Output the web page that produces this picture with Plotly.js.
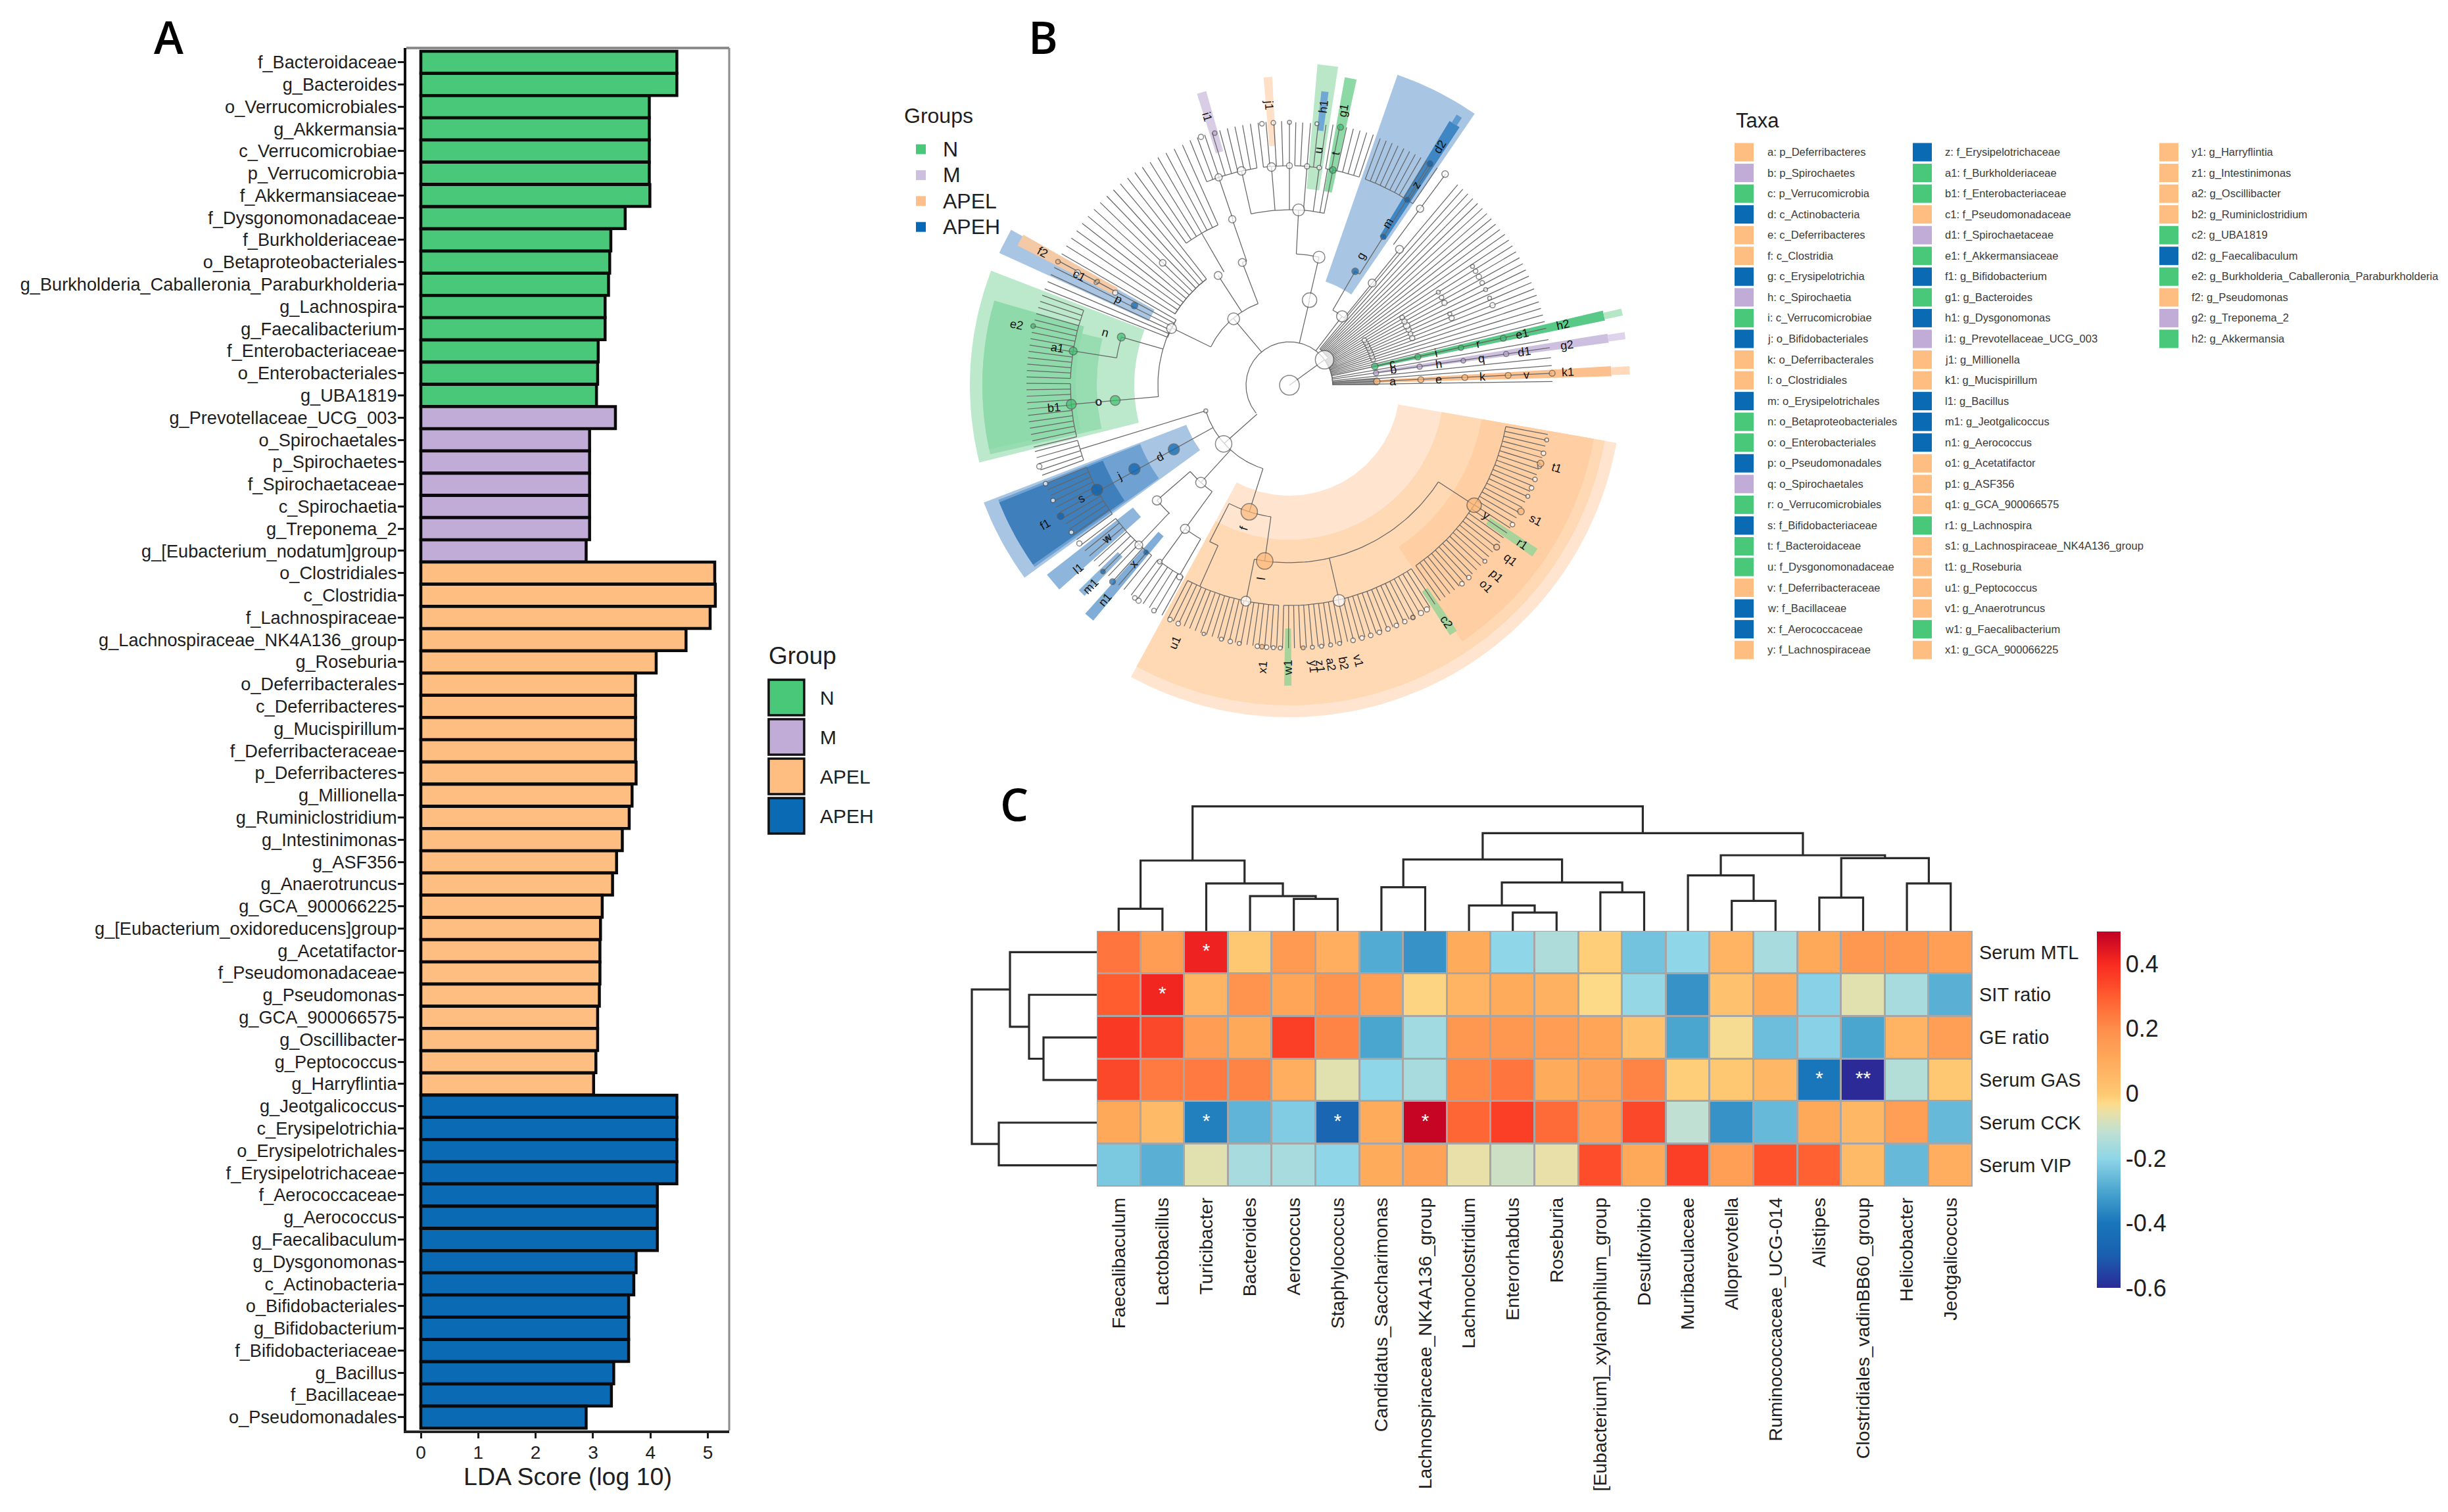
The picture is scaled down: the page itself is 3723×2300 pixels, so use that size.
<!DOCTYPE html>
<html><head><meta charset="utf-8">
<script src="https://cdn.plot.ly/plotly-3.0.1.min.js"></script>
<style>html,body{margin:0;padding:0;background:#fff}#c{width:3723px;height:2300px}</style></head>
<body><div id="c"></div>
<script>
const W=3723,H=2300,FONT='"Liberation Sans",Arial,sans-serif';
const groupNames=['N','M','APEL','APEH'];
const groupColors=['#48C878','#C0ACD6','#FEBE82','#0A6AB4'];

// ---------- Panel A ----------
const taxaN=['f_Bacteroidaceae','g_Bacteroides','o_Verrucomicrobiales','g_Akkermansia','c_Verrucomicrobiae','p_Verrucomicrobia','f_Akkermansiaceae','f_Dysgonomonadaceae','f_Burkholderiaceae','o_Betaproteobacteriales','g_Burkholderia_Caballeronia_Paraburkholderia','g_Lachnospira','g_Faecalibacterium','f_Enterobacteriaceae','o_Enterobacteriales','g_UBA1819'];
const ldaN=[4.46,4.46,3.98,3.98,3.98,3.98,3.99,3.56,3.31,3.29,3.27,3.21,3.21,3.09,3.08,3.06];
const taxaM=['g_Prevotellaceae_UCG_003','o_Spirochaetales','p_Spirochaetes','f_Spirochaetaceae','c_Spirochaetia','g_Treponema_2','g_[Eubacterium_nodatum]group'];
const ldaM=[3.39,2.94,2.94,2.94,2.94,2.94,2.88];
const taxaL=['o_Clostridiales','c_Clostridia','f_Lachnospiraceae','g_Lachnospiraceae_NK4A136_group','g_Roseburia','o_Deferribacterales','c_Deferribacteres','g_Mucispirillum','f_Deferribacteraceae','p_Deferribacteres','g_Millionella','g_Ruminiclostridium','g_Intestinimonas','g_ASF356','g_Anaerotruncus','g_GCA_900066225','g_[Eubacterium_oxidoreducens]group','g_Acetatifactor','f_Pseudomonadaceae','g_Pseudomonas','g_GCA_900066575','g_Oscillibacter','g_Peptococcus','g_Harryflintia'];
const ldaL=[5.12,5.13,5.04,4.62,4.10,3.74,3.74,3.74,3.74,3.75,3.68,3.63,3.51,3.41,3.34,3.16,3.13,3.12,3.12,3.11,3.08,3.08,3.05,3.01];
const taxaH=['g_Jeotgalicoccus','c_Erysipelotrichia','o_Erysipelotrichales','f_Erysipelotrichaceae','f_Aerococcaceae','g_Aerococcus','g_Faecalibaculum','g_Dysgonomonas','c_Actinobacteria','o_Bifidobacteriales','g_Bifidobacterium','f_Bifidobacteriaceae','g_Bacillus','f_Bacillaceae','o_Pseudomonadales'];
const ldaH=[4.46,4.46,4.46,4.46,4.12,4.12,4.12,3.75,3.71,3.62,3.62,3.62,3.36,3.32,2.88];

// ---------- Panel B: cladogram (angle in degrees, radius) ----------
// sectors: [angle0, angle1, r0, r1, colour]
const sectors=[
 [-118.5,-10,168,505,'#FFE5CF'],[-118.5,-10,235,487,'#FFD8B4'],[-56,-10,297,470,'#FFCEA2'],
 [-57.3,-55.7,373,452,'#A8D49C'],[-35.2,-33.4,366,452,'#A8D49C'],[269,270.4,370,457,'#A8D49C'],
 [159,194,236,486,'#BCE9CB'],[166,193,293,467,'#98DDB1'],[164,192,325,467,'#8FDAAA'],
 [201,216,168,498,'#A8C6E3'],[201.5,215.5,244,476,'#6FA2D3'],[202,215,306,476,'#3F7FBC'],
 [55.7,70.8,167,500,'#A8C6E3'],[56.6,58.8,265,470,'#3F86C4'],[57.2,58.3,470,484,'#5E9BCF'],
 [81.3,85,300,490,'#B9E7C8'],[82.4,83.8,390,450,'#6FA8D4'],[77.6,79.8,300,476,'#8CD9A6'],
 [93.2,94.8,365,470,'#FFE0C6'],[105.8,107.6,370,465,'#D9CDE6'],
 [150.8,155.5,235,485,'#A8C6E3'],[150.5,152.8,300,465,'#F3C9A6'],
 [218,221.6,302,468,'#8EB6DC'],[224.2,225.8,364,447,'#8EB6DC'],[228.2,230.2,299,466,'#7FADD8'],
 [0,5,66,135,'#9C9C9C'],
 [11.6,13.4,130,490,'#58C986'],[11.8,13,490,518,'#B5E6C6'],
 [7.6,9.2,130,490,'#CDBFE0'],[7.8,9,490,516,'#DDD3EB'],
 [1.6,3.4,130,490,'#FCC08E'],[1.8,3.2,490,518,'#FFD9BA']
];
// leaf combs: [arcRadius, tipRadius, leaf angles]
const leafCombs=[
 [66,400,[0.8,2.6,4.3,6,8.2,10,12.5,14,15.5,17,18.5,20,21.5,23,24.5,26,27.5,29,30.5,32,33.5,35]],
 [72,398,[36.5,38,39.5,41,42.5,44,45.5,47,48.5,50]],
 [334,400,[55.8,57.2,58.6,60,61.4,62.8,64.2,65.6,67,68.4,69.8]],
 [334,402,[71.5,73,74.5,76,77.5,79,80.5]],
 [334,400,[82,83.7,85.4,87.1,88.6]],
 [334,402,[90,91.7,93.4,95.1,96.8]],
 [334,402,[98.5,100.2,101.9,103.6,105.3,107,108.7,110.4,112.1]],
 [267,400,[114,116,118,120,122,124,126]],
 [205,400,[128,130,132,134,136,138,140,142,144,146,148]],
 [199,400,[150,151.7,153.4,155.1,156.8,158.5]],
 [333,400,[160,161.4,162.8,164.2,165.6,167,168.4,169.8,171.2,172.6,174,175.4,176.8,178.2]],
 [333,400,[179.6,181,182.4,183.8,185.2,186.6,188,189.4,190.8,192.2,193.6]],
 [333,400,[194.6,196,197.4,198.8,200]],
 [333,400,[202,203.4,204.8,206.2,207.6,209,210.4,211.8,213.2,214.6,216]],
 [333,400,[217.5,219,220.5,222,223.5,225,226.5,228,229.5,231]],
 [333,400,[233,234.6,236.2,237.8,239.4,241]],
 [335,400,[242.5,243.8,245.1,246.4,247.7,249,250.3,251.6,252.9,254.2,255.5,256.8,258.1,259.4,260.7,262,263.3,264.6,265.9,267.2]],
 [335,400,[268.5,269.8,271.1,272.4,273.7,275,276.3,277.6,278.9,280.2,281.5,282.8,284.1,285.4,286.7,288,289.3,290.6,291.9,293.2,294.5,295.8,297.1,298.4,299.7,301,302.3,303.6]],
 [335,400,[305,306.3,307.6,308.9,310.2,311.5,312.8,314.1,315.4,316.7,318,319.3,320.6,321.9,323.2,324.5,325.8,327.1,328.4,329.7,331,332.3,333.6,334.9,336.2,337.5,338.8,340.1,341.4,342.7,344,345.3,346.6,347.9,349.2]]
];
// arcs: [radius, angle0, angle1]
const branchArcs=[[66,0,220],[133,197,252.4],[133,111,154],[200,77,87],[267,78.6,102.6],[132,51,60],[200,57.7,60],
 [200,109,111],[199,150,154],[205,128,148],[200,154,185],[266,164,171],[200,221,234],[267,221,227],[270,234,240],
 [202,243,262],[267,243,246],[270,258.6,327]];
// spokes: [angle, r0, r1]
const branchSpokes=[[36,0,66],[76.7,66,133],[77,133,200],[87,200,267],[78.6,267,334],[80,267,334],[82.2,267,334],[85.4,267,334],[90,267,334],[94.7,267,334],[102.6,267,334],
 [52.6,66,132],[51,132,266],[53.5,266,400],[60,132,200],[57.7,200,400],[130,66,133],[111,133,200],[123,133,199],[154,133,199],[109,200,267],[108.8,267,334],[120,199,267],
 [164,200,266],[185,200,333],[171,266,333],[221.7,66,133],[197,133,333],[209,133,333],[227.7,133,200],[221,200,267],[234,200,270],[226.7,267,334],[234,270,333],[240,270,333],
 [252.4,133,202],[243,202,267],[262,202,270],[246,267,335],[258.6,270,335],[283,270,335],[327,270,335]];
// nodes: [angle, radius, diameter]
const nodesWhite=[[0,0,30],[36,66,28],[76.7,133,22],[52.6,132,17],[130,132,18],[221.7,134,25],[197,133,6],[77,200,18],[87,267,18],[51,200,12],[51,266,12],[53.5,334,11],[53.6,399,10],
 [102.6,334,13],[94.7,333,13],[90,334,9],[85.4,334,8],[82.2,334,7],[111,200,12],[123,199,12],[109,267,11],[108.8,334,11],[154.3,199,15],[136,268,10],[185,292,8],
 [227.7,200,16],[221,267,14],[234,270,14],[226.7,334,12],[233.7,333,7],[240.2,336,9],[258.6,335,15],[283,336,18],[96,400,7],[93.5,400,7],[90,400,6],[109.6,401,8],[84,400,6],[79,334,5],
 [152,300,8],[152,365,9],[152,333,6],
 [17,133,7],[19,133,7],[21,133,7],[23,133,7],[25,133,7],[27,133,7],[29,133,7],[31,133,7],
 [21,200,8],[23,200,7],[25,200,8],[27,200,10],[29,200,8],[31,200,7],
 [22.5,267,8],[24,267,6],[28,267,8],[30,267,7],[32,267,6],[21.5,332,8],[23.5,332,6],[26,332,6],[28,332,7],[29.8,332,8],[31.5,332,7],[33,332,6],
 [243,400,7],[245,400,7],[251,400,5],[255,400,6],[257,400,7],[259,400,6],[263,400,7],[265,400,7],[266.5,400,6],[268,400,6],
 [275,400,6],[277,400,6],[279,400,6],[281,400,6],[284,400,7],[286,400,7],[288,400,7],[290,400,7],[292,400,7],[294,400,7],[296,400,7],[298,400,7],[300,400,8],[301.5,400,8],
 [311,400,7],[313,400,7],[318,400,6],[322,400,8],[328,400,7],[335,400,6],[337,400,7],[339,400,7],[342,400,6],[345,400,7],[348,400,6],[202,400,7],[206,400,7],[198,400,8],[214,400,7],[217,400,8],[235,400,8],[239,400,7],[234,400,7]
];
const nodesN=[[12.5,133,10],[12.4,200,9],[12.3,267,8],[12.4,333,9],[78.6,334,10],[78.8,400,9],[164,266,12],[185,266,15],[185,333,15],[171,333,12],[167,400,7]];
const nodesM=[[8,133,8],[8.1,200,8],[8,267,7],[8.2,333,8],[106.5,400,7]];
const nodesL=[[2.5,133,10],[2.4,200,9],[2.5,267,9],[2.6,333,9],[2.6,400,9],[151.6,332,6],[151.9,399,7],[252.4,202,25],[262,270,25],[-33,335,22],[-28.6,401,10],[-17.3,400,10],[-38,400,9],[264,400,7],[273,400,6],[-62,400,6]];
const nodesH=[[60,200,10],[57.7,267,8],[57.6,334,8],[57.6,399,9],[209,201,17],[208.4,268,17],[208.5,333,17],[209.8,401,10],[152.8,265,10],[229.4,335,7],[228,402,9],[225,401,7],[220,362,6]];
// labels: [text, angle, radius]
const cladeLabels=[['j1',94.2,427],['i1',107,427],['h1',83,427],['g1',78.9,426],['t',78.8,360],['u',83,360],['d2',57.7,429],['z',57.7,361],['m',58.8,288],['g',61,225],
 ['f2',151.7,426],['c1',152.4,361],['p',153.3,291],['e2',167.5,425],['n',164,291],['a1',170.9,358],['b1',185.4,360],['o',185,291],['d',209,225],['j',208.2,293],['s',208.6,360],['f1',209.7,428],
 ['w',220,362],['l1',221,425],['m1',225.3,430],['n1',229.4,430],['x',229,361],['f',252.4,228],['l',261.7,297],['u1',246,429],['x1',264.6,431],['w1',269.7,430],
 ['y1',274.8,430],['z1',276.2,430],['a2',278.4,429],['b2',281,431],['v1',284,432],['c2',-56.5,432],['o1',-45.6,428],['p1',-42.6,428],['q1',-38.3,428],['r1',-34.3,429],['s1',-28.7,427],['y',-33.4,359],['t1',-17.2,426],
 ['k1',2.7,424],['v',2.6,361],['k',2.5,294],['e',2.2,227],['a',2,158],['g2',8.2,426],['d1',8.2,361],['q',7.9,295],['h',8.1,229],['b',8.5,160],['h2',12.5,426],['e1',12.4,362],['r',12.3,294],['i',12.4,228],['c',11.9,160]];
// taxa legend
const taxaKey=[['a: p_Deferribacteres',2],['b: p_Spirochaetes',1],['c: p_Verrucomicrobia',0],['d: c_Actinobacteria',3],['e: c_Deferribacteres',2],['f: c_Clostridia',2],['g: c_Erysipelotrichia',3],['h: c_Spirochaetia',1],['i: c_Verrucomicrobiae',0],['j: o_Bifidobacteriales',3],['k: o_Deferribacterales',2],['l: o_Clostridiales',2],['m: o_Erysipelotrichales',3],['n: o_Betaproteobacteriales',0],['o: o_Enterobacteriales',0],['p: o_Pseudomonadales',3],['q: o_Spirochaetales',1],['r: o_Verrucomicrobiales',0],['s: f_Bifidobacteriaceae',3],['t: f_Bacteroidaceae',0],['u: f_Dysgonomonadaceae',0],['v: f_Deferribacteraceae',2],['w: f_Bacillaceae',3],['x: f_Aerococcaceae',3],['y: f_Lachnospiraceae',2],
 ['z: f_Erysipelotrichaceae',3],['a1: f_Burkholderiaceae',0],['b1: f_Enterobacteriaceae',0],['c1: f_Pseudomonadaceae',2],['d1: f_Spirochaetaceae',1],['e1: f_Akkermansiaceae',0],['f1: g_Bifidobacterium',3],['g1: g_Bacteroides',0],['h1: g_Dysgonomonas',3],['i1: g_Prevotellaceae_UCG_003',1],['j1: g_Millionella',2],['k1: g_Mucispirillum',2],['l1: g_Bacillus',3],['m1: g_Jeotgalicoccus',3],['n1: g_Aerococcus',3],['o1: g_Acetatifactor',2],['p1: g_ASF356',2],['q1: g_GCA_900066575',2],['r1: g_Lachnospira',0],['s1: g_Lachnospiraceae_NK4A136_group',2],['t1: g_Roseburia',2],['u1: g_Peptococcus',2],['v1: g_Anaerotruncus',2],['w1: g_Faecalibacterium',0],['x1: g_GCA_900066225',2],
 ['y1: g_Harryflintia',2],['z1: g_Intestinimonas',2],['a2: g_Oscillibacter',2],['b2: g_Ruminiclostridium',2],['c2: g_UBA1819',0],['d2: g_Faecalibaculum',3],['e2: g_Burkholderia_Caballeronia_Paraburkholderia',0],['f2: g_Pseudomonas',2],['g2: g_Treponema_2',1],['h2: g_Akkermansia',0]];

// ---------- Panel C ----------
const heatCols=['Faecalibaculum','Lactobacillus','Turicibacter','Bacteroides','Aerococcus','Staphylococcus','Candidatus_Saccharimonas','Lachnospiraceae_NK4A136_group','Lachnoclostridium','Enterorhabdus','Roseburia','[Eubacterium]_xylanophilum_group','Desulfovibrio','Muribaculaceae','Alloprevotella','Ruminococcaceae_UCG-014','Alistipes','Clostridiales_vadinBB60_group','Helicobacter','Jeotgalicoccus'];
const heatRows=['Serum MTL','SIT ratio','GE ratio','Serum GAS','Serum CCK','Serum VIP'];
const zMTL=[0.25,0.15,0.42,0.0,0.16,0.09,-0.29,-0.34,0.10,-0.20,-0.15,-0.01,-0.24,-0.20,0.07,-0.16,0.11,0.17,0.17,0.14];
const zSIT=[0.30,0.41,0.07,0.18,0.12,0.18,0.14,-0.02,0.07,0.10,0.08,-0.03,-0.19,-0.34,0.02,0.10,-0.21,-0.07,-0.16,-0.28];
const zGE=[0.37,0.34,0.15,0.11,0.36,0.22,-0.30,-0.17,0.17,0.17,0.15,0.12,0.02,-0.30,-0.04,-0.25,-0.21,-0.30,0.07,0.14];
const zGAS=[0.34,0.24,0.24,0.22,0.09,-0.07,-0.20,-0.16,0.21,0.25,0.10,0.13,0.22,-0.01,0.0,0.06,-0.40,-0.60,-0.14,0.0];
const zCCK=[0.11,0.05,-0.38,-0.27,-0.22,-0.47,0.10,0.49,0.28,0.36,0.27,0.15,0.34,-0.12,-0.34,-0.26,0.11,0.06,0.14,-0.26];
const zVIP=[-0.23,-0.28,-0.07,-0.16,-0.16,-0.20,0.10,0.13,-0.06,-0.10,-0.06,0.33,0.11,0.36,0.14,0.32,0.29,0.05,-0.26,0.09];
const sigCols=[2,1,16,17,2,5,7];
const sigRows=[0,1,3,3,4,4,4];
const sigMarks=['*','*','*','**','*','*','*'];
const colorStops=[[-0.6,'#2B2A97'],[-0.5,'#1A5FB0'],[-0.4,'#1976BA'],[-0.3,'#4BA6CF'],[-0.2,'#8FD6E8'],[-0.12,'#BFE0D2'],[-0.06,'#E8E0A8'],[-0.03,'#FDDA88'],[0,'#FEC872'],[0.1,'#FEAB5C'],[0.2,'#FE8E4A'],[0.3,'#FF5C30'],[0.4,'#F82A20'],[0.5,'#C00024']];
const cbTicks=[-0.6,-0.4,-0.2,0,0.2,0.4];
const cbText=['-0.6','-0.4','-0.2','0','0.2','0.4'];
// merges: [childA, childB, height]; child<20 leaf, child>=20 earlier merge
const colMerges=[[0,1,33.6],[4,5,48.6],[3,21,52.9],[2,22,72.1],[20,23,107],[6,7,66.4],[9,10,27.9],[8,26,38.6],[11,12,58.6],[27,28,73.6],[25,29,108.6],[14,15,45.7],[13,31,84.3],[16,17,50.7],[18,19,72.1],[33,34,110.7],[32,35,115],[30,36,148.6],[24,37,189.3]];
const rowMerges=[[2,3,81],[1,6,103],[0,7,132],[4,5,149],[8,9,190]];

// ---------- helpers ----------
const fx=p=>p/W, fy=p=>1-p/H;
const pol=(a,r)=>[r*Math.cos(a*Math.PI/180),r*Math.sin(a*Math.PI/180)];
function arcPts(r,a0,a1){const n=Math.max(2,Math.ceil(Math.abs(a1-a0)/1.5));const o=[];for(let i=0;i<=n;i++)o.push(pol(a0+(a1-a0)*i/n,r));return o;}
const traces=[],annos=[],shapes=[];
const note=(text,x,y,size,extra={})=>annos.push(Object.assign({text,x:fx(x),y:fy(y),xref:'paper',yref:'paper',showarrow:false,xanchor:'left',yanchor:'middle',font:{family:FONT,size,color:'#1e1e1e'}},extra));

// A bars
[[taxaN,ldaN],[taxaM,ldaM],[taxaL,ldaL],[taxaH,ldaH]].forEach(([t,v],i)=>traces.push({type:'bar',orientation:'h',y:t,x:v,xaxis:'x',yaxis:'y',width:0.99,marker:{color:groupColors[i],line:{color:'#0a0a0a',width:4.5}},hoverinfo:'skip',showlegend:false}));
const allTaxa=[...taxaN,...taxaM,...taxaL,...taxaH];

// B sectors
sectors.forEach(([a0,a1,r0,r1,c])=>{const p=[...arcPts(r1,a0,a1),...arcPts(r0,a1,a0)];p.push(p[0]);
 traces.push({type:'scatter',mode:'lines',x:p.map(q=>q[0]),y:p.map(q=>q[1]),xaxis:'x2',yaxis:'y2',fill:'toself',fillcolor:c,line:{width:0},hoverinfo:'skip',showlegend:false});});
// B lines
const lx=[],ly=[];
const addLine=pts=>{pts.forEach(p=>{lx.push(p[0]);ly.push(p[1]);});lx.push(null);ly.push(null);};
leafCombs.forEach(([r0,r1,angs])=>{addLine(arcPts(r0,angs[0],angs[angs.length-1]));angs.forEach(a=>addLine([pol(a,r0),pol(a,r1)]));});
branchArcs.forEach(([r,a,b])=>addLine(arcPts(r,a,b)));
branchSpokes.forEach(([a,r0,r1])=>addLine([pol(a,r0),pol(a,r1)]));
traces.push({type:'scatter',mode:'lines',x:lx,y:ly,xaxis:'x2',yaxis:'y2',line:{color:'#666666',width:1.25},hoverinfo:'skip',showlegend:false});
// B nodes
[[nodesWhite,'#FFFFFF'],[nodesN,'#3CC070'],[nodesM,'#BBA6D2'],[nodesL,'#FDB877'],[nodesH,'#0A62AE']].forEach(([n,c])=>{const p=n.map(q=>pol(q[0],q[1]));
 traces.push({type:'scatter',mode:'markers',x:p.map(q=>q[0]),y:p.map(q=>q[1]),xaxis:'x2',yaxis:'y2',marker:{color:c,size:n.map(q=>q[2]),line:{color:'#555',width:1.5}},hoverinfo:'skip',showlegend:false});});
cladeLabels.forEach(([t,a,r])=>{const p=pol(a,r);const m=((a%360)+360)%360;const ang=(m>90&&m<270)?180-m:-m;
 annos.push({text:t,x:p[0],y:p[1],xref:'x2',yref:'y2',showarrow:false,textangle:ang,font:{family:FONT,size:18,color:'#111'}});});

// C heatmap
const gray={type:'rect',xref:'x3 domain',yref:'y3 domain',x0:0,x1:1,y0:0,y1:1,fillcolor:'#A6A6A6',line:{width:0},layer:'below'};
shapes.push(gray);
traces.push({type:'heatmap',x:heatCols,y:heatRows,z:[zMTL,zSIT,zGE,zGAS,zCCK,zVIP],xaxis:'x3',yaxis:'y3',xgap:3,ygap:3,zmin:-0.6,zmax:0.5,
 colorscale:colorStops.map(s=>[(s[0]+0.6)/1.1,s[1]]),hoverinfo:'skip',
 colorbar:{x:fx(3189),xanchor:'left',xpad:0,y:fy(1417),yanchor:'top',ypad:0,len:542,lenmode:'pixels',thickness:36,thicknessmode:'pixels',outlinewidth:0,borderwidth:0,
  tickmode:'array',tickvals:cbTicks,ticktext:cbText,ticks:'',ticklen:0,tickfont:{family:FONT,size:36,color:'#1e1e1e'}}});
traces.push({type:'scatter',mode:'text',x:sigCols.map(i=>heatCols[i]),y:sigRows.map(i=>heatRows[i]),text:sigMarks,xaxis:'x3',yaxis:'y3',textposition:'middle center',textfont:{family:FONT,size:30,color:'#FFFFFF'},hoverinfo:'skip',showlegend:false});
// dendrograms
function dendro(merges,nLeaf,draw){const pos={},hgt={};for(let i=0;i<nLeaf;i++){pos[i]=i;hgt[i]=0;}
 merges.forEach(([a,b,h],k)=>{draw(pos[a],hgt[a],pos[b],hgt[b],h);pos[nLeaf+k]=(pos[a]+pos[b])/2;hgt[nLeaf+k]=h;});}
const tx=[],ty=[];dendro(colMerges,20,(p,h0,q,h1,h)=>{tx.push(p,p,q,q,null);ty.push(h0,h,h,h1,null);});
traces.push({type:'scatter',mode:'lines',x:tx,y:ty,xaxis:'x4',yaxis:'y4',line:{color:'#2a2a2a',width:3.2},hoverinfo:'skip',showlegend:false});
const sx=[],sy=[];dendro(rowMerges,6,(p,h0,q,h1,h)=>{sy.push(p,p,q,q,null);sx.push(h0,h,h,h1,null);});
traces.push({type:'scatter',mode:'lines',x:sx,y:sy,xaxis:'x5',yaxis:'y5',line:{color:'#2a2a2a',width:3.2},hoverinfo:'skip',showlegend:false});

// panel letters
const LET={family:'"Open Sans","Liberation Sans",sans-serif',size:68,weight:600,color:'#000'};
note('A',232,56,68,{font:LET});
note('B',1562,56,68,{font:LET});
note('C',1519,1222,68,{font:LET});
// A frame + legend
shapes.push({type:'line',xref:'paper',yref:'paper',x0:fx(618),x1:fx(1109),y0:fy(73),y1:fy(73),line:{color:'#8c8c8c',width:4}});
shapes.push({type:'line',xref:'paper',yref:'paper',x0:fx(1109),x1:fx(1109),y0:fy(73),y1:fy(2176),line:{color:'#8c8c8c',width:3}});
note('Group',1167,997,37);
groupNames.forEach((g,i)=>{const y0=1034+60*i;
 shapes.push({type:'rect',xref:'paper',yref:'paper',x0:fx(1169),x1:fx(1223),y0:fy(y0),y1:fy(y0+54),fillcolor:groupColors[i],line:{color:'#111',width:3.5}});
 note(g,1245,y0+27,30);});
// B legend
note('Groups',1373,176,32);
const swB=['#48C878','#CDBFE0','#FDC08A','#0868B8'];
groupNames.forEach((g,i)=>{const y=227+39.4*i;
 shapes.push({type:'rect',xref:'paper',yref:'paper',x0:fx(1393),x1:fx(1408),y0:fy(y-7.5),y1:fy(y+7.5),fillcolor:swB[i],line:{width:0}});
 note(g,1432,y,32);});
// taxa legend
note('Taxa',2638,184,31);
const colX=[2638,2909,3284],textX=[2686,2956,3331];
taxaKey.forEach(([t,g],i)=>{const c=i<25?0:(i<50?1:2),y=231.5+31.55*(i%25);
 shapes.push({type:'rect',xref:'paper',yref:'paper',x0:fx(colX[c]),x1:fx(colX[c]+29),y0:fy(y-14),y1:fy(y+14),fillcolor:groupColors[g],line:{width:0}});
 note(t,textX[c],y,16.5,{font:{family:FONT,size:16.5,color:'#3a3a3a'}});});

const hidden=(o)=>Object.assign({visible:false,fixedrange:true},o);
const layout={width:W,height:H,margin:{l:0,r:0,t:0,b:0},paper_bgcolor:'#fff',plot_bgcolor:'rgba(0,0,0,0)',showlegend:false,barmode:'overlay',font:{family:FONT,color:'#1e1e1e'},annotations:annos,shapes,
 xaxis:{domain:[fx(618),fx(1109)],range:[-0.252,5.372],anchor:'y',tickvals:[0,1,2,3,4,5],ticks:'outside',ticklen:8,tickwidth:3,tickcolor:'#1a1a1a',showline:true,linecolor:'#222',linewidth:4,showgrid:false,zeroline:false,ticklabelstandoff:-3,tickfont:{size:28,color:'#1e1e1e'},title:{text:'LDA Score (log 10)',font:{size:37.5,color:'#1e1e1e'},standoff:6}},
 yaxis:{domain:[fy(2176),fy(73)],type:'category',categoryorder:'array',categoryarray:allTaxa,range:[61.6,-0.64],anchor:'x',tickmode:'array',tickvals:allTaxa,ticktext:allTaxa,ticks:'outside',ticklen:9,tickwidth:3,tickcolor:'#1a1a1a',showline:true,linecolor:'#111',linewidth:4,showgrid:false,zeroline:false,ticklabelstandoff:-4,tickfont:{size:27.2,color:'#1e1e1e'},automargin:false},
 xaxis2:hidden({domain:[fx(1400),fx(2520)],range:[-561,559],anchor:'y2'}),
 yaxis2:hidden({domain:[fy(1130),fy(40)],range:[-544,546],anchor:'x2'}),
 xaxis3:{domain:[fx(1668),fx(3000)],type:'category',categoryorder:'array',categoryarray:heatCols,range:[-0.5,19.5],anchor:'y3',tickmode:'array',tickvals:heatCols,ticktext:heatCols,tickangle:-90,ticks:'',showline:false,showgrid:false,zeroline:false,ticklabelstandoff:10,tickfont:{size:28.5,color:'#1e1e1e'},automargin:false},
 yaxis3:{domain:[fy(1805),fy(1416)],type:'category',categoryorder:'array',categoryarray:heatRows,range:[5.5,-0.5],anchor:'x3',side:'right',tickmode:'array',tickvals:heatRows,ticktext:heatRows,ticks:'',showline:false,showgrid:false,zeroline:false,ticklabelstandoff:9,tickfont:{size:29,color:'#1e1e1e'},automargin:false},
 xaxis4:hidden({domain:[fx(1668),fx(3000)],range:[-0.5,19.5],anchor:'y4'}),
 yaxis4:hidden({domain:[fy(1416),fy(1216)],range:[0,200],anchor:'x4'}),
 xaxis5:hidden({domain:[fx(1468),fx(1668)],range:[200,0],anchor:'y5'}),
 yaxis5:hidden({domain:[fy(1805),fy(1416)],range:[5.5,-0.5],anchor:'x5'})
};
Plotly.newPlot('c',traces,layout,{staticPlot:true,displayModeBar:false});
</script></body></html>
